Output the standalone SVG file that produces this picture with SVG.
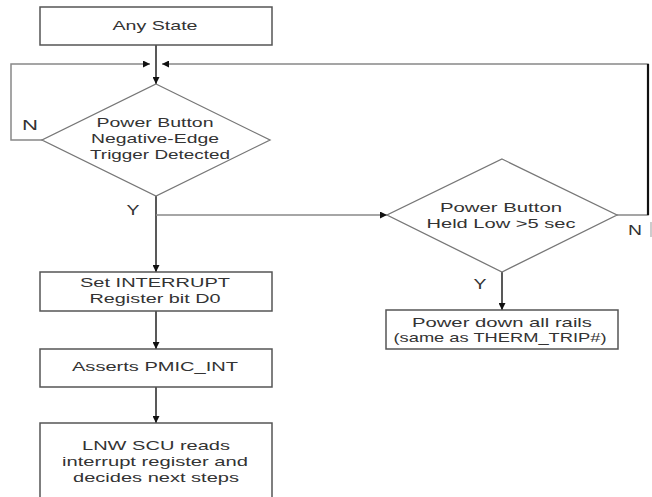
<svg xmlns="http://www.w3.org/2000/svg" width="652" height="497" viewBox="0 0 652 497">
<style>
.box{fill:#fff;stroke:#555;stroke-width:1.5}
.dia{fill:#fff;stroke:#777;stroke-width:1.3}
.t{font-family:"Liberation Sans",Arial,sans-serif;font-size:13px;fill:#333;text-anchor:middle}
.lbl{font-family:"Liberation Sans",Arial,sans-serif;font-size:14px;fill:#333;text-anchor:middle}
.c{fill:none;stroke:#222;stroke-width:1.5}
.g{fill:none;stroke:#888;stroke-width:1.5}
</style>
<defs>
<marker id="ah" viewBox="0 0 10 10" refX="10" refY="5" markerWidth="9" markerHeight="7" markerUnits="userSpaceOnUse" orient="auto">
<path d="M0,0 L10,5 L0,10 z" fill="#111"/>
</marker>
</defs>
<rect width="652" height="497" fill="#fff"/>
<g id="connectors">
<line class="c" x1="156" y1="45" x2="156" y2="84" marker-end="url(#ah)"/>
<polyline class="g" points="42,140 11,140 11,64 150,64" marker-end="url(#ah)"/>
<polyline class="g" points="617,215 648,215 648,64 162,64" marker-end="url(#ah)"/>
<line x1="648" y1="64" x2="648" y2="215" stroke="#111" stroke-width="2.2"/>
<line class="c" x1="156" y1="196" x2="156" y2="272" marker-end="url(#ah)"/>
<line class="g" x1="156" y1="215" x2="387" y2="215" marker-end="url(#ah)"/>
<line class="c" x1="502" y1="272" x2="502" y2="310" marker-end="url(#ah)"/>
<line class="c" x1="156" y1="311" x2="156" y2="349" marker-end="url(#ah)"/>
<line class="c" x1="156" y1="387" x2="156" y2="423" marker-end="url(#ah)"/>
<line x1="651" y1="222" x2="651" y2="237" stroke="#999" stroke-width="1"/>
<text class="lbl" x="30" y="130" textLength="16" lengthAdjust="spacingAndGlyphs">N</text>
<text class="lbl" x="133" y="215" textLength="13" lengthAdjust="spacingAndGlyphs">Y</text>
<text class="lbl" x="480" y="289" textLength="13" lengthAdjust="spacingAndGlyphs">Y</text>
<text class="lbl" x="635" y="235" textLength="14" lengthAdjust="spacingAndGlyphs">N</text>
</g>
<g id="any-state">
<rect class="box" x="40" y="7" width="232" height="38"/>
<text class="t" x="155" y="29.5" textLength="85" lengthAdjust="spacingAndGlyphs">Any State</text>
</g>
<g id="negedge">
<polygon class="dia" points="156,84 270,140 156,196 42,140"/>
<text class="t" x="155" y="127" textLength="117" lengthAdjust="spacingAndGlyphs">Power Button</text>
<text class="t" x="155" y="143" textLength="128" lengthAdjust="spacingAndGlyphs">Negative-Edge</text>
<text class="t" x="160" y="159" textLength="140" lengthAdjust="spacingAndGlyphs">Trigger Detected</text>
</g>
<g id="held-low">
<polygon class="dia" points="502,159 617,215 502,272 387,215"/>
<text class="t" x="501" y="212" textLength="122" lengthAdjust="spacingAndGlyphs">Power Button</text>
<text class="t" x="501" y="228" textLength="149" lengthAdjust="spacingAndGlyphs">Held Low &gt;5 sec</text>
</g>
<g id="power-down">
<rect class="box" x="386" y="310" width="232" height="39"/>
<text class="t" x="502" y="327" textLength="180" lengthAdjust="spacingAndGlyphs">Power down all rails</text>
<text class="t" x="500" y="342" textLength="213" lengthAdjust="spacingAndGlyphs">(same as THERM_TRIP#)</text>
</g>
<g id="set-interrupt">
<rect class="box" x="40" y="272" width="232" height="39"/>
<text class="t" x="155" y="287" textLength="150" lengthAdjust="spacingAndGlyphs">Set INTERRUPT</text>
<text class="t" x="155" y="303" textLength="131" lengthAdjust="spacingAndGlyphs">Register bit D0</text>
</g>
<g id="asserts">
<rect class="box" x="40" y="349" width="232" height="38"/>
<text class="t" x="155" y="371" textLength="166" lengthAdjust="spacingAndGlyphs">Asserts PMIC_INT</text>
</g>
<g id="lnw-scu">
<rect class="box" x="40" y="423" width="232" height="90"/>
<text class="t" x="156" y="450" textLength="148" lengthAdjust="spacingAndGlyphs">LNW SCU reads</text>
<text class="t" x="155" y="466" textLength="186" lengthAdjust="spacingAndGlyphs">interrupt register and</text>
<text class="t" x="156" y="482" textLength="166" lengthAdjust="spacingAndGlyphs">decides next steps</text>
</g>
</svg>
